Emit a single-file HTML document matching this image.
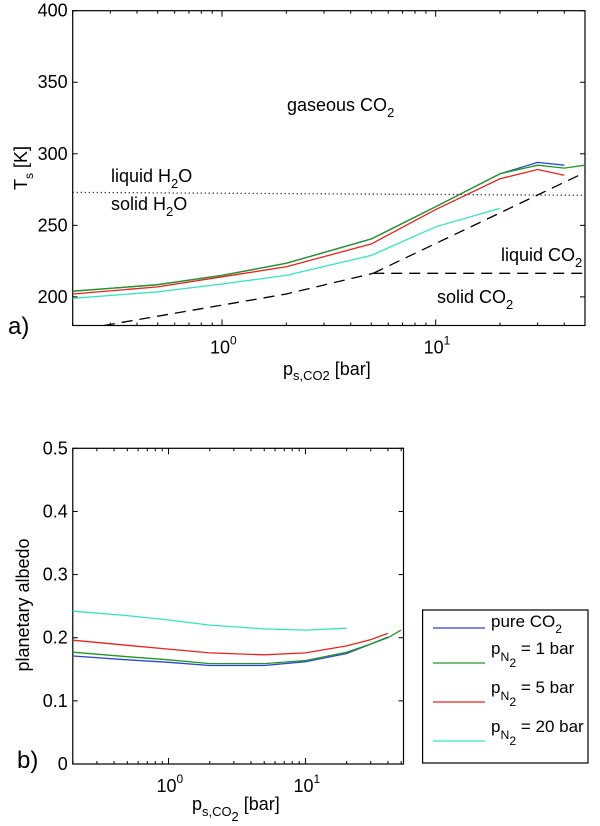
<!DOCTYPE html>
<html><head><meta charset="utf-8">
<style>
html,body{margin:0;padding:0;background:#fff;}
svg{display:block;font-family:"Liberation Sans",Arial,sans-serif;}
</style></head>
<body>
<svg id="fig" width="600" height="826" viewBox="0 0 600 826" xmlns="http://www.w3.org/2000/svg">
<g id="pa"></g>
<g id="pb"></g>
</svg>
<script>
// ---------- data ----------
const pressures = [0.2, 0.5, 1, 2, 5, 10, 20, 30, 40, 50];
const tsPure = [204, 208.5, 215, 223.5, 240.5, 263, 286, 294, 292];
const tsN1 = [204, 208.5, 215, 223.5, 240.5, 263, 286, 292, 290, 292];
const tsN5 = [202, 207, 214, 221, 237, 261, 282.5, 289, 285];
const tsN20 = [199, 203.5, 209, 215, 229, 249, 262];
const sublimP = [0.28, 2, 5.1];
const sublimT = [180, 202, 216.5];
const vapourP = [5.1, 50];
const vapourT = [216.5, 216.5];
const liquidP = [5.1, 50];
const liquidT = [216.5, 287];
const waterP = [0.2, 50];
const waterT = [273, 271];
const albPure = [0.171, 0.165, 0.161, 0.156, 0.156, 0.162, 0.175, 0.19, 0.201];
const albN1 = [0.177, 0.17, 0.165, 0.159, 0.159, 0.164, 0.177, 0.19, 0.2, 0.212];
const albN5 = [0.196, 0.188, 0.182, 0.176, 0.173, 0.176, 0.187, 0.197, 0.207];
const albN20 = [0.242, 0.235, 0.228, 0.22, 0.214, 0.212, 0.215];
const tsTicks = [200, 250, 300, 350, 400];
const albTicks = [0, 0.1, 0.2, 0.3, 0.4, 0.5];
const decades = [0, 1];
const seriesNames = ["pure CO2", "pN2 = 1 bar", "pN2 = 5 bar", "pN2 = 20 bar"];
const colors = ["#2b45d6", "#1f9a1f", "#e8231b", "#33e6b9"];

const NS = "http://www.w3.org/2000/svg";
function mk(parent, tag, attrs, text) {
  const e = document.createElementNS(NS, tag);
  for (const k in attrs) e.setAttribute(k, attrs[k]);
  if (text !== undefined) e.textContent = text;
  parent.appendChild(e);
  return e;
}
function axes(g, L, R, T, B, xmin, xmax, ymin, ymax) {
  const lx0 = Math.log10(xmin), lx1 = Math.log10(xmax);
  return {
    x: p => L + (Math.log10(p) - lx0) / (lx1 - lx0) * (R - L),
    y: v => B - (v - ymin) / (ymax - ymin) * (B - T),
    L, R, T, B, xmin, xmax
  };
}
function drawFrame(g, ax, yTicks, fmt) {
  for (let d = -1; d <= 2; d++) {
    for (let m = 1; m <= 9; m++) {
      const p = m * Math.pow(10, d);
      if (p < ax.xmin || p > ax.xmax) continue;
      const x = ax.x(p), len = m === 1 ? 6 : 3;
      const t1 = mk(g, "line", {x1: x, x2: x, y1: ax.B, y2: ax.B - len, stroke: "#000", "stroke-width": 1});
      
      
      const t2 = mk(g, "line", {x1: x, x2: x, y1: ax.T, y2: ax.T + len, stroke: "#000", "stroke-width": 1});
      
      
    }
  }
  yTicks.forEach(v => {
    const y = ax.y(v);
    const a = mk(g, "line", {x1: ax.L, x2: ax.L + 5, y1: y, y2: y, stroke: "#000"});
    
    
    const b = mk(g, "line", {x1: ax.R, x2: ax.R - 5, y1: y, y2: y, stroke: "#000"});
    
    
    const t = mk(g, "text", {x: ax.L - 5, y: y + 6, "text-anchor": "end", "font-size": 18}, fmt(v));
    
    
  });
  decades.forEach(d => {
    const x = ax.x(Math.pow(10, d));
    const t = mk(g, "text", {x: x - 12, y: ax.B + 28, "font-size": 18}, "10");
    
    
    const s = mk(g, "text", {x: x + 8, y: ax.B + 19, "font-size": 12}, String(d));
    
    
  });
  const fr = mk(g, "rect", {x: ax.L, y: ax.T, width: ax.R - ax.L, height: ax.B - ax.T, fill: "none", stroke: "#000", "stroke-width": 1.2});
  
  
}
function line(g, ax, xs, ys, color, name, dash) {
  const pts = ys.map((v, i) => ax.x(xs[i]).toFixed(1) + "," + ax.y(v).toFixed(1)).join(" ");
  const a = {points: pts, fill: "none", stroke: color, "stroke-width": 1.3};
  if (dash) a["stroke-dasharray"] = dash;
  const e = mk(g, "polyline", a);
  
  
}
function label(g, x, y, parts, size, name) {
  const t = mk(g, "text", {x: x, y: y, "font-size": size});
  
  
  parts.forEach(p => {
    mk(t, "tspan", p.sub ? {dy: p.dy || 6, "font-size": size * 0.72} : (p.back ? {dy: p.back} : {}), p.t);
  });
  return t;
}

// ---------- panel a ----------
const ga = document.getElementById("pa");
const axA = axes(ga, 72.7, 585, 10.7, 325.5, 0.2, 50, 180, 400);
drawFrame(ga, axA, tsTicks, v => String(v));
line(ga, axA, waterP, waterT, "#000", "water-freezing-line", "1,3");
line(ga, axA, sublimP, sublimT, "#000", "co2-sublimation-line", "11,7");
line(ga, axA, vapourP, vapourT, "#000", "co2-triple-line", "11,7");
line(ga, axA, liquidP, liquidT, "#000", "co2-vaporization-line", "11,7");
line(ga, axA, pressures, tsN20, colors[3], "ts-n2-20bar");
line(ga, axA, pressures, tsN5, colors[2], "ts-n2-5bar");
line(ga, axA, pressures, tsPure, colors[0], "ts-pure-co2");
line(ga, axA, pressures, tsN1, colors[1], "ts-n2-1bar");
label(ga, 287, 111, [{t: "gaseous CO"}, {t: "2", sub: 1}], 18, "gaseous-co2-label");
label(ga, 111, 182, [{t: "liquid H"}, {t: "2", sub: 1}, {t: "O", back: -6}], 18, "liquid-h2o-label");
label(ga, 111, 210, [{t: "solid H"}, {t: "2", sub: 1}, {t: "O", back: -6}], 18, "solid-h2o-label");
label(ga, 501, 261, [{t: "liquid CO"}, {t: "2", sub: 1}], 18, "liquid-co2-label");
label(ga, 437, 303, [{t: "solid CO"}, {t: "2", sub: 1}], 18, "solid-co2-label");
label(ga, 8, 334, [{t: "a)"}], 24, "panel-a-label");
label(ga, 283, 375, [{t: "p"}, {t: "s,CO2", sub: 1, dy: 5}, {t: " [bar]", back: -5}], 18, "x-axis-title-a");
const yta = mk(ga, "text", {transform: "translate(27,168) rotate(-90)", "text-anchor": "middle", "font-size": 18});


mk(yta, "tspan", {}, "T");
mk(yta, "tspan", {dy: 6, "font-size": 12}, "s");
mk(yta, "tspan", {dy: -6}, " [K]");

// ---------- panel b ----------
const gb = document.getElementById("pb");
const axB = axes(gb, 72.8, 403.5, 448.3, 764, 0.2, 52, 0, 0.5);
drawFrame(gb, axB, albTicks, v => v === 0 ? "0" : v.toFixed(1));
line(gb, axB, pressures, albN20, colors[3], "albedo-n2-20bar");
line(gb, axB, pressures, albN5, colors[2], "albedo-n2-5bar");
line(gb, axB, pressures, albPure, colors[0], "albedo-pure-co2");
line(gb, axB, pressures, albN1, colors[1], "albedo-n2-1bar");
label(gb, 17, 768, [{t: "b)"}], 24, "panel-b-label");
label(gb, 192, 810, [{t: "p"}, {t: "s,CO", sub: 1, dy: 6}, {t: "2", sub: 1, dy: 5}, {t: " [bar]", back: -11}], 18, "x-axis-title-b");
const ytb = mk(gb, "text", {transform: "translate(29,605) rotate(-90)", "text-anchor": "middle", "font-size": 18}, "planetary albedo");



// legend
const lg = mk(gb, "g", {});


const lr = mk(lg, "rect", {x: 422.6, y: 610, width: 165.4, height: 153, fill: "#fff", stroke: "#000", "stroke-width": 1.2});


const rowY = [628, 663, 702, 741];
seriesNames.forEach((n, i) => {
  const ln = mk(lg, "line", {x1: 433, x2: 485, y1: rowY[i], y2: rowY[i], stroke: colors[i], "stroke-width": 1.3});
  
  
  let parts;
  if (i === 0) parts = [{t: "pure CO"}, {t: "2", sub: 1}];
  else parts = [{t: "p"}, {t: "N", sub: 1, dy: 7}, {t: "2", sub: 1, dy: 6}, {t: n.replace("pN2", ""), back: -13}];
  label(lg, 491, i === 0 ? rowY[i] - 1 : rowY[i] - 9, parts, 17, "legend-entry");
});
</script>
</body></html>
